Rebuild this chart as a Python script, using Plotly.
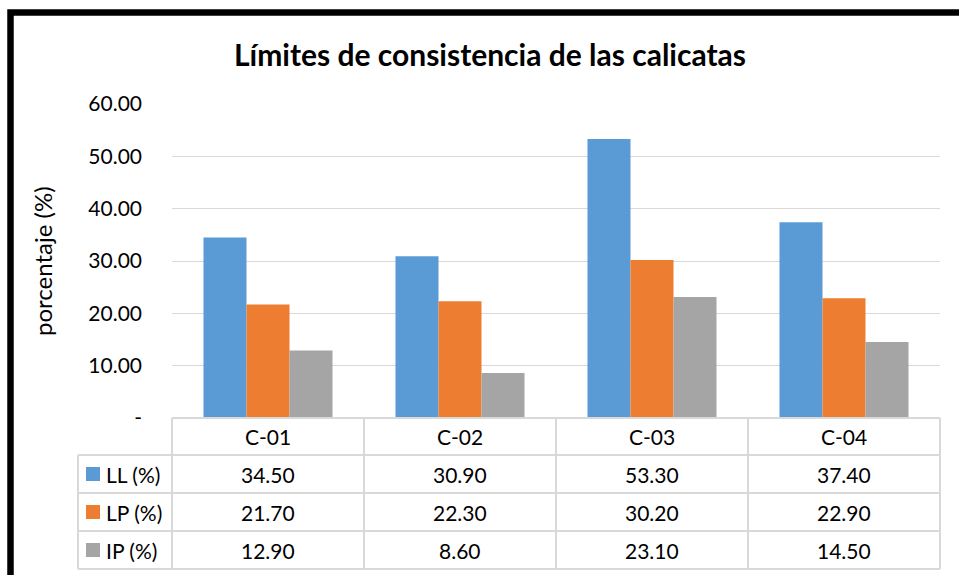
import plotly.graph_objects as go

# Soil consistency limits per test pit
categories = ["C-01", "C-02", "C-03", "C-04"]
series_names = ["LL (%)", "LP (%)", "IP (%)"]
ll_values = [34.50, 30.90, 53.30, 37.40]
lp_values = [21.70, 22.30, 30.20, 22.90]
ip_values = [12.90, 8.60, 23.10, 14.50]
series_values = [ll_values, lp_values, ip_values]
series_colors = ["#5B9BD5", "#ED7D31", "#A5A5A5"]

y_tick_vals = [0, 10, 20, 30, 40, 50, 60]
y_tick_text = ["-", "10.00", "20.00", "30.00", "40.00", "50.00", "60.00"]

W, H = 959, 575
PL, PR, PT, PB = 172, 940, 104, 418  # plot area in pixels
FONT = "Lato, Calibri, sans-serif"
GRID = "#D9D9D9"


def fx(px):
    return (px - PL) / (PR - PL)


def fy(py):
    return (PB - py) / (PB - PT)


fig = go.Figure()
for name, vals, col in zip(series_names, series_values, series_colors):
    fig.add_trace(go.Bar(x=categories, y=vals, name=name, marker_color=col,
                         marker_line_width=0, showlegend=False,
                         hovertemplate="%{x}: %{y:.2f}<extra>" + name + "</extra>"))

shapes = []
annotations = []

# Data table below the plot
col_edges = [PL + i * (PR - PL) / len(categories) for i in range(len(categories) + 1)]
row_edges = [418, 455, 493, 531, 569]
key_left = 78
line = dict(color=GRID, width=2)

# horizontal rules
shapes.append(dict(type="line", xref="paper", yref="paper", x0=fx(PL), x1=fx(PR),
                   y0=fy(row_edges[0]), y1=fy(row_edges[0]), line=line))
for ry in row_edges[1:]:
    shapes.append(dict(type="line", xref="paper", yref="paper", x0=fx(key_left), x1=fx(PR),
                       y0=fy(ry), y1=fy(ry), line=line))
# vertical rules
for cx in col_edges:
    shapes.append(dict(type="line", xref="paper", yref="paper", x0=fx(cx), x1=fx(cx),
                       y0=fy(row_edges[0]), y1=fy(row_edges[-1]), line=line))
shapes.append(dict(type="line", xref="paper", yref="paper", x0=fx(key_left), x1=fx(key_left),
                   y0=fy(row_edges[1]), y1=fy(row_edges[-1]), line=line))

cell_font = dict(family=FONT, size=21, color="#000000")
# header row
hy = (row_edges[0] + row_edges[1]) / 2
for cat in categories:
    annotations.append(dict(x=cat, y=fy(hy), xref="x", yref="paper", text=cat,
                            showarrow=False, font=cell_font, xanchor="center", yanchor="middle"))
# value rows with legend keys
for i, (name, vals, col) in enumerate(zip(series_names, series_values, series_colors)):
    ry = (row_edges[i + 1] + row_edges[i + 2]) / 2
    shapes.append(dict(type="rect", xref="paper", yref="paper", x0=fx(86), x1=fx(100),
                       y0=fy(ry - 7), y1=fy(ry + 7), fillcolor=col, line=dict(width=0)))
    annotations.append(dict(x=fx(104), y=fy(ry), xref="paper", yref="paper", text=name,
                            showarrow=False, font=cell_font, xanchor="left", yanchor="middle"))
    for cat, v in zip(categories, vals):
        annotations.append(dict(x=cat, y=fy(ry), xref="x", yref="paper", text=f"{v:.2f}",
                                showarrow=False, font=cell_font, xanchor="center", yanchor="middle"))

# y-axis title
annotations.append(dict(x=fx(42), y=fy(261), xref="paper", yref="paper", text="porcentaje (%)",
                        textangle=-90, showarrow=False,
                        font=dict(family=FONT, size=24, color="#000000"),
                        xanchor="center", yanchor="middle"))

# outer black frame
shapes.append(dict(type="path", xref="paper", yref="paper",
                   path=f"M {fx(10.5)} {fy(590)} L {fx(10.5)} {fy(12.5)} L {fx(975)} {fy(12.5)}",
                   line=dict(color="#000000", width=6.5)))

fig.update_layout(
    width=W, height=H,
    margin=dict(l=PL, r=W - PR, t=PT, b=H - PB, pad=0),
    paper_bgcolor="#FFFFFF", plot_bgcolor="#FFFFFF",
    barmode="group", bargap=0.328, bargroupgap=0,
    title=dict(text="<b>Límites de consistencia de las calicatas</b>",
               xref="container", yref="container", x=490 / W, y=1 - 55 / H,
               xanchor="center", yanchor="middle",
               font=dict(family=FONT, size=30, color="#000000")),
    xaxis=dict(showticklabels=False, showgrid=False, zeroline=False, showline=False,
               range=[-0.5, len(categories) - 0.5]),
    yaxis=dict(range=[0, 60], tickvals=y_tick_vals, ticktext=y_tick_text,
               showgrid=True, gridcolor=GRID, gridwidth=1.3, zeroline=False, showline=False,
               ticks="", ticklabelstandoff=29,
               tickfont=dict(family=FONT, size=21, color="#000000")),
    shapes=shapes, annotations=annotations,
)

fig.write_html("out.html")
